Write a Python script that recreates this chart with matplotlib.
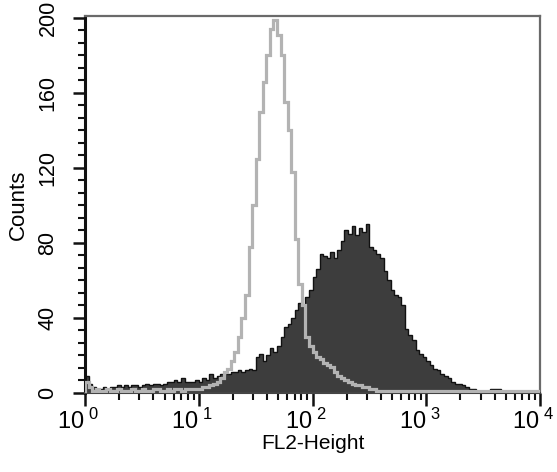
import numpy as np
import matplotlib
matplotlib.use("Agg")
import matplotlib.pyplot as plt
import matplotlib.transforms as mtransforms
from matplotlib.ticker import AutoMinorLocator, LogLocator, NullFormatter

plt.rcParams['font.family'] = ['Liberation Sans', 'DejaVu Sans']
plt.rcParams['mathtext.fontset'] = 'custom'
plt.rcParams['mathtext.rm'] = 'Liberation Sans'
plt.rcParams['mathtext.it'] = 'Liberation Sans'

# 128 log-spaced channels over four decades
edges = 10 ** np.linspace(0, 4, 129)

# control (open gray outline)
control_counts = [
    6, 3,
    1, 2, 1, 1, 2, 1, 1, 2, 1, 1, 1, 2, 1, 1, 2, 1, 1, 2, 2, 1, 1, 2, 1, 2, 2, 1, 2, 2, 2, 2,
    2, 3, 3, 4, 5, 6, 8, 11, 13, 17, 22, 30, 40, 52, 78, 100, 125, 150, 166, 180,
    194, 199, 191, 180, 155, 140, 118, 82, 58, 47, 30, 25, 22, 19, 18, 16, 15, 14,
    11, 9, 8, 7, 6, 5, 4, 4, 3, 3, 2, 2,
] + [1] * 46

# stained sample (dark filled)
sample_counts = [
    9, 5, 3, 2, 2, 3, 2, 3,
    3, 4, 3, 4, 3, 4, 4, 3,
    4, 5, 4, 5, 5, 4,
    5, 6, 6, 7, 6, 8, 6, 6,
    6, 7, 6, 8, 7, 10, 8, 9, 10, 11, 10, 11, 11, 12, 11, 12, 13, 12,
    19, 21, 17, 20, 24, 22, 25, 30, 35, 37, 40, 44, 48, 47, 51, 55,
    62, 66, 74, 73, 72, 75, 72, 76, 81, 87, 85, 89, 84, 88, 86, 90,
    78, 76, 74, 72, 65, 60, 55, 52, 51, 47, 34, 31, 28, 23, 21, 19,
    17, 15, 13, 12, 10, 9, 8, 6, 5, 5, 4, 3, 2, 2, 1, 1,
    1, 1, 2, 2, 2, 1,
] + [1] * 10

x_ticks = [1, 10, 100, 1000, 10000]
x_labels = [r'$10^{\ 0}$', r'$10^{\ 1}$', r'$10^{\ 2}$', r'$10^{\ 3}$', r'$10^{\ 4}$']
y_ticks = [0, 40, 80, 120, 160, 200]

fig = plt.figure(figsize=(5.57, 4.72), dpi=100)
ax = fig.add_axes([85 / 557, 1 - 393 / 472, 455 / 557, 377 / 472])

ax.stairs(sample_counts, edges, fill=True, color='#3d3d3d', zorder=2)
ax.stairs(sample_counts, edges, color='#111111', lw=1.0, zorder=3)
ax.stairs(control_counts, edges, color='#b3b3b3', lw=2.3, zorder=4)

ax.set_xscale('log')
ax.set_xlim(1, 1e4)
ax.set_ylim(0, 201)

ax.xaxis.set_minor_locator(LogLocator(base=10, subs=np.arange(2, 10), numticks=50))
ax.xaxis.set_minor_formatter(NullFormatter())
ax.set_xticks(x_ticks)
ax.set_xticklabels([])
# labels sit a little left of their ticks in the original
lab_trans = mtransforms.offset_copy(ax.get_xaxis_transform(), fig=fig, x=-5, y=-11, units='points')
for t, s in zip(x_ticks, x_labels):
    ax.text(t, 0, s, transform=lab_trans, ha='center', va='top', fontsize=17, clip_on=False)

ax.set_yticks(y_ticks)
ax.yaxis.set_minor_locator(AutoMinorLocator(6))
for lab in ax.get_yticklabels():
    lab.set_rotation(90)
    lab.set_va('center')
    lab.set_fontsize(15.5)

ax.tick_params(axis='both', which='major', direction='out', length=9, width=1.8, color='#111111')
ax.tick_params(axis='both', which='minor', direction='out', length=5, width=1.5, color='#111111')
ax.tick_params(axis='y', which='major', pad=10)

ax.spines['left'].set_linewidth(2.2)
ax.spines['left'].set_color('#111111')
ax.spines['bottom'].set_linewidth(1.5)
ax.spines['bottom'].set_color('#444444')
for s in ['top', 'right']:
    ax.spines[s].set_linewidth(1.6)
    ax.spines[s].set_color('#6a6a6a')

ax.set_xlabel('FL2-Height', fontsize=15, labelpad=17)
ax.set_ylabel('Counts', fontsize=16, labelpad=6)

fig.savefig('out.png', dpi=100)
